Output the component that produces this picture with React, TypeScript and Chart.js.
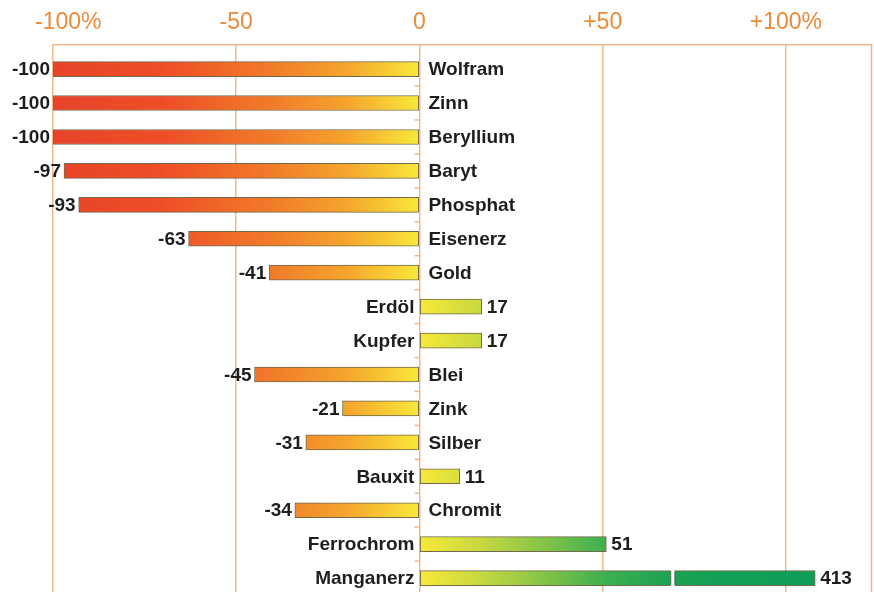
import React, { useEffect, useRef } from "react";
import { Chart, registerables } from "chart.js";

Chart.register(...registerables);

const categories = ["Wolfram", "Zinn", "Beryllium", "Baryt", "Phosphat", "Eisenerz", "Gold", "Erdöl", "Kupfer", "Blei", "Zink", "Silber", "Bauxit", "Chromit", "Ferrochrom", "Manganerz"];
const values = [-100, -100, -100, -97, -93, -63, -41, 17, 17, -45, -21, -31, 11, -34, 51, 413];
const tickValues = [-100, -50, 0, 50, 100];
const tickLabels = ["-100%", "-50", "0", "+50", "+100%"];
const axisMin = -100;
const axisMax = 123.5;
const barCap = 108; // displayed length for truncated bars
const breakAt = 69; // where the truncated bar shows its break

const ORANGE_TEXT = "#EC8A38";
const GRID = "rgba(238,160,100,0.75)";
const LABEL_FONT = "bold 19px 'Liberation Sans', Arial, sans-serif";

function makeGradient(chart: any) {
  const xs = chart.scales.x;
  const x0 = xs.getPixelForValue(-100);
  const x1 = xs.getPixelForValue(100);
  const g = chart.ctx.createLinearGradient(x0, 0, x1, 0);
  g.addColorStop(0.0, "#E8432A");
  g.addColorStop(0.15, "#EE4E27");
  g.addColorStop(0.3, "#F07C2A");
  g.addColorStop(0.4, "#F5A42D");
  g.addColorStop(0.5, "#F8E93A");
  g.addColorStop(0.58, "#C9D940");
  g.addColorStop(0.67, "#84C448");
  g.addColorStop(0.75, "#40B050");
  g.addColorStop(0.85, "#18A254");
  g.addColorStop(1.0, "#0F9E56");
  return g;
}

const overlayPlugin = {
  id: "overlay",
  afterDatasetsDraw(chart: any) {
    const { ctx, chartArea, scales } = chart;
    const xs = scales.x;
    const ys = scales.y;
    const x0 = xs.getPixelForValue(0);
    ctx.save();
    // right frame line
    ctx.strokeStyle = GRID;
    ctx.lineWidth = 1.5;
    ctx.beginPath();
    ctx.moveTo(chartArea.right - 0.5, chartArea.top);
    ctx.lineTo(chartArea.right - 0.5, chartArea.bottom);
    ctx.stroke();
    // small ticks on zero line between rows
    for (let i = 0; i < categories.length; i++) {
      const y = ys.getPixelForValue(i + 0.5);
      ctx.beginPath();
      ctx.moveTo(x0 - 5, y);
      ctx.lineTo(x0, y);
      ctx.stroke();
    }
    // break marks for truncated bars
    const meta = chart.getDatasetMeta(0);
    values.forEach((v, i) => {
      if (v > barCap) {
        const bar = meta.data[i];
        const bx = xs.getPixelForValue(breakAt);
        const h = 15;
        ctx.fillStyle = "#ffffff";
        ctx.fillRect(bx - 1.5, bar.y - h / 2 - 1, 4, h + 2);
        ctx.strokeStyle = "rgba(70,80,60,0.7)";
        ctx.lineWidth = 1;
        ctx.beginPath();
        ctx.moveTo(bx - 1.5, bar.y - h / 2 + 0.5);
        ctx.lineTo(bx - 1.5, bar.y + h / 2 - 0.5);
        ctx.moveTo(bx + 2.5, bar.y - h / 2 + 0.5);
        ctx.lineTo(bx + 2.5, bar.y + h / 2 - 0.5);
        ctx.stroke();
      }
    });
    // labels
    ctx.font = LABEL_FONT;
    ctx.fillStyle = "#1E1E1E";
    ctx.textBaseline = "middle";
    values.forEach((v, i) => {
      const bar = meta.data[i];
      const y = bar.y + 1;
      const xe = bar.x;
      if (v < 0) {
        ctx.textAlign = "left";
        ctx.fillText(categories[i], x0 + 9, y);
        ctx.textAlign = "right";
        ctx.fillText(String(v), xe - 3, y);
      } else {
        ctx.textAlign = "right";
        ctx.fillText(categories[i], x0 - 5, y);
        ctx.textAlign = "left";
        ctx.fillText(String(v), xe + 5, y);
      }
    });
    // top tick labels
    ctx.font = "23px 'Liberation Sans', Arial, sans-serif";
    ctx.fillStyle = ORANGE_TEXT;
    ctx.textAlign = "center";
    ctx.textBaseline = "alphabetic";
    tickValues.forEach((t, k) => {
      const w = ctx.measureText(tickLabels[k]).width;
      let px = xs.getPixelForValue(t);
      px = Math.max(px, 35 + w / 2);
      ctx.fillText(tickLabels[k], px, 29);
    });
    ctx.restore();
  },
};

export default function App() {
  const ref = useRef<HTMLCanvasElement>(null);
  useEffect(() => {
    if (!ref.current) return;
    const chart = new Chart(ref.current, {
      type: "bar",
      data: {
        labels: categories,
        datasets: [
          {
            data: values.map((v, i) => ({ x: Math.min(v, barCap), y: i })) as any,
            backgroundColor: (c: any) => {
              const ch = c.chart;
              if (!ch.chartArea) return "#F5A42D";
              return makeGradient(ch);
            },
            borderColor: "rgba(90,80,45,0.85)",
            borderWidth: 1,
            borderSkipped: false,
            barThickness: 15,
          },
        ],
      },
      options: {
        indexAxis: "y",
        responsive: false,
        animation: false,
        layout: { padding: { left: 53, right: 2, top: 45, bottom: 0 } },
        plugins: { legend: { display: false }, tooltip: { enabled: false } },
        scales: {
          x: {
            type: "linear",
            position: "top",
            min: axisMin,
            max: axisMax,
            afterBuildTicks: (s: any) => {
              s.ticks = tickValues.map((v) => ({ value: v }));
            },
            afterFit: (s: any) => {
              s.height = 0;
            },
            ticks: { display: false },
            grid: { color: GRID, lineWidth: 1.5, drawTicks: false },
            border: { display: true, color: GRID, width: 1.5 },
          },
          y: {
            type: "linear",
            display: false,
            offset: false,
            reverse: true,
            min: -0.71,
            max: 15.41,
          },
        },
      },
      plugins: [overlayPlugin],
    });
    return () => chart.destroy();
  }, []);
  return (
    <div style={{ position: "fixed", left: 0, top: 0, width: 874, height: 592, background: "#fff" }}>
      <canvas ref={ref} width={874} height={592} style={{ display: "block" }} />
    </div>
  );
}
